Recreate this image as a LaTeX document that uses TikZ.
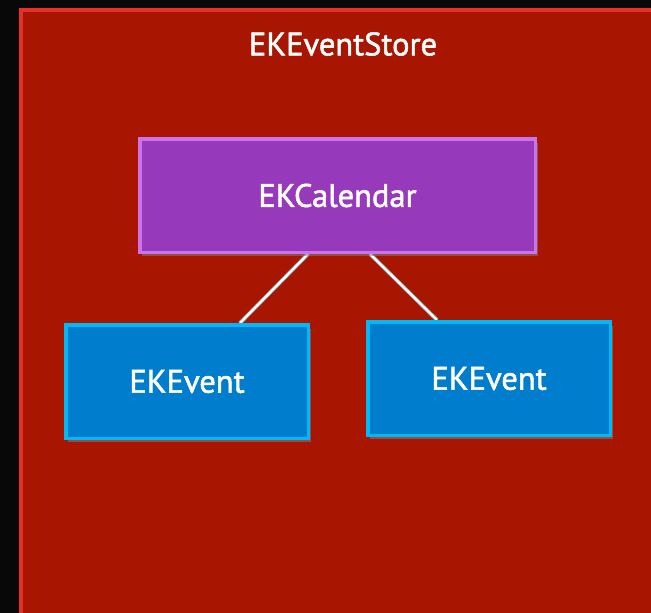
\documentclass[tikz,border=0pt]{standalone}
\usepackage{fontspec}
\setmainfont{PT Sans}
\newfontfamily\labelfont[FakeBold=1.6]{PT Sans}
\usetikzlibrary{shadows}
\pgfdeclarelayer{background}
\pgfdeclarelayer{edges}
\pgfsetlayers{background,edges,main}
\definecolor{storefill}{HTML}{A81500}
\definecolor{storeline}{HTML}{E8302A}
\definecolor{calfill}{HTML}{9739BB}
\definecolor{calline}{HTML}{CC72EC}
\definecolor{evfill}{HTML}{007DCD}
\definecolor{evline}{HTML}{00B9F6}
\tikzset{
  lbl/.style={text=white, font=\labelfont\fontsize{32.5}{36}\selectfont},
  box/.style={lbl, rectangle, line width=3.5pt, minimum height=113.5pt,
    drop shadow={shadow xshift=2.5pt, shadow yshift=-4pt, opacity=0.55}},
  calbox/.style={box, draw=calline, fill=calfill, minimum width=395.5pt},
  evbox/.style={box, draw=evline, fill=evfill, minimum width=242.5pt},
  linkunder/.style={draw=black!45, line width=4pt},
  linkover/.style={draw=white, line width=2.4pt},
}
\begin{document}
\begin{tikzpicture}[x=1pt,y=-1pt]
\useasboundingbox (0,0) rectangle (651,613);
\begin{pgfonlayer}{background}
\fill[black!97] (0,0) rectangle (651,613);
\fill[storeline] (19,8) rectangle (651,613);
\fill[storefill] (23,12) rectangle (651,613);
\end{pgfonlayer}
\node[lbl] (title) at (343,44) {EKEventStore};
\node[calbox] (cal) at (337.5,195.5) {EKCalendar};
\node[evbox] (evL) at (187,381.5) {EKEvent};
\node[evbox] (evR) at (489,378.5) {EKEvent};
\begin{pgfonlayer}{edges}
\draw[linkunder] ([xshift=-29.5pt]cal.south) -- ([xshift=53pt]evL.north);
\draw[linkover] ([xshift=-29.5pt]cal.south) -- ([xshift=53pt]evL.north);
\draw[linkunder] ([xshift=32.5pt]cal.south) -- ([xshift=-52pt]evR.north);
\draw[linkover] ([xshift=32.5pt]cal.south) -- ([xshift=-52pt]evR.north);
\end{pgfonlayer}
\end{tikzpicture}
\end{document}
